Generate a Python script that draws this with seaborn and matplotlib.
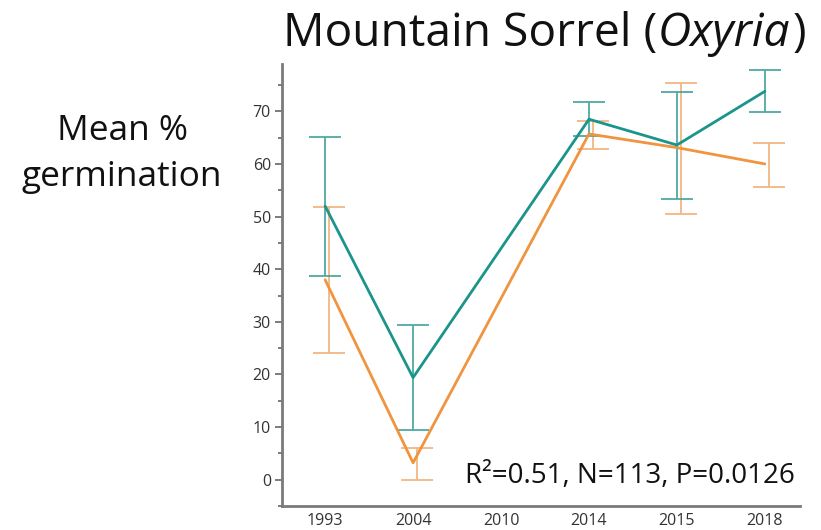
import matplotlib
matplotlib.use("Agg")
import matplotlib.pyplot as plt
import seaborn as sns
import pandas as pd
import numpy as np
from matplotlib.ticker import MultipleLocator

years = ["1993", "2004", "2010", "2014", "2015", "2018"]
data_years = ["1993", "2004", "2014", "2015", "2018"]

teal_mean = [52.0, 19.4, 68.5, 63.6, 73.8]
teal_low = [38.8, 9.5, 65.3, 53.3, 69.8]
teal_high = [65.1, 29.3, 71.7, 73.6, 77.8]

orange_mean = [38.0, 3.2, 65.7, 63.1, 60.0]
orange_low = [24.1, 0.0, 62.8, 50.5, 55.7]
orange_high = [51.9, 6.0, 68.2, 75.4, 63.9]

TEAL = "#1b948c"
TEAL_ERR = "#4fa9a3"
ORANGE = "#f09440"
ORANGE_ERR = "#f2b681"

sns.set_theme(style="white")
FAM = ["Open Sans", "DejaVu Sans"]
plt.rcParams["font.family"] = FAM

pos = [years.index(y) for y in data_years]
df = pd.DataFrame({
    "pos": pos * 2,
    "mean": teal_mean + orange_mean,
    "low": teal_low + orange_low,
    "high": teal_high + orange_high,
    "series": ["teal"] * len(pos) + ["orange"] * len(pos),
})

W, H = 821, 530
fig = plt.figure(figsize=(W / 100, H / 100), dpi=100)
ax = fig.add_axes([0.3435, 0.0453, 0.631, 0.834])

offsets = {"teal": 0.0, "orange": 0.045}
errcols = {"teal": TEAL_ERR, "orange": ORANGE_ERR}
for s in ["orange", "teal"]:
    d = df[df.series == s]
    x = d["pos"].to_numpy() + offsets[s]
    m = d["mean"].to_numpy()
    ax.errorbar(x, m, yerr=[m - d["low"].to_numpy(), d["high"].to_numpy() - m],
                fmt="none", ecolor=errcols[s], elinewidth=1.3, capsize=11.5,
                capthick=1.3, zorder=2)

sns.lineplot(data=df, x="pos", y="mean", hue="series",
             palette={"teal": TEAL, "orange": ORANGE},
             hue_order=["orange", "teal"], linewidth=2.0, legend=False,
             ax=ax, zorder=3)

ax.set_xticks(range(len(years)))
ax.set_xticklabels(years)
ax.set_xlim(-0.49, 5.4)
ax.yaxis.set_major_locator(MultipleLocator(10))
ax.yaxis.set_minor_locator(MultipleLocator(5))
ax.set_yticks(np.arange(0, 80, 10))
ax.set_ylim(-5, 79)
ax.tick_params(axis="y", which="major", length=5, width=1.2, color="#666666",
               labelsize=11.5, labelcolor="#333333", left=True, pad=3)
ax.tick_params(axis="y", which="minor", length=3, width=1.2, color="#666666", left=True)
ax.tick_params(axis="x", length=0, labelsize=11.5, labelcolor="#333333", pad=5)
ax.set_xlabel("")
ax.set_ylabel("")

for side in ["top", "right"]:
    ax.spines[side].set_visible(False)
for side in ["left", "bottom"]:
    ax.spines[side].set_color("#7a7a7a")
    ax.spines[side].set_linewidth(2)

# Title built from pieces (regular + italic + regular)
renderer = fig.canvas.get_renderer()
ty = 1 - 46 / H
x_px = 283
for txt, style in [("Mountain Sorrel (", "normal"), ("Oxyria", "italic"), (")", "normal")]:
    t = fig.text(x_px / W, ty, txt, fontsize=33.2, ha="left", va="baseline",
                 style=style, color="#111111", family=FAM)
    bb = t.get_window_extent(renderer=renderer)
    x_px = bb.x1 + (3 if style == "italic" else 0)

fig.text(122 / W, 1 - 140 / H, "Mean %", fontsize=25.4, ha="center", va="baseline",
         color="#111111")
fig.text(122 / W, 1 - 186 / H, "germination", fontsize=25.4, ha="center", va="baseline",
         color="#111111")

fig.text(795 / W, 1 - 483 / H, "R\u00b2=0.51, N=113, P=0.0126",
         fontsize=20, ha="right", va="baseline", color="#111111")

fig.savefig("out.png", dpi=100)
